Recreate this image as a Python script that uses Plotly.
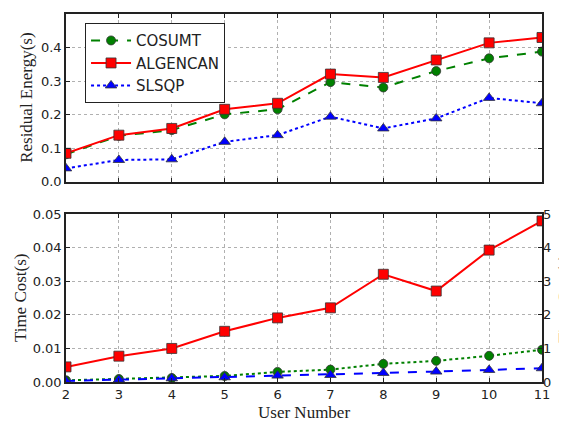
import plotly.graph_objects as go

users = [2, 3, 4, 5, 6, 7, 8, 9, 10, 11]

# Residual energy (s)
energy_cosumt = [0.082, 0.137, 0.154, 0.201, 0.216, 0.297, 0.281, 0.330, 0.368, 0.388]
energy_algencan = [0.085, 0.139, 0.159, 0.216, 0.234, 0.321, 0.311, 0.363, 0.414, 0.430]
energy_slsqp = [0.040, 0.065, 0.067, 0.119, 0.139, 0.194, 0.159, 0.189, 0.250, 0.234]

# Time cost (s), read on left axis
time_cosumt = [0.0005, 0.0009, 0.0012, 0.0018, 0.0030, 0.0037, 0.0054, 0.0063, 0.0078, 0.0096]
time_algencan = [0.0045, 0.0077, 0.0100, 0.0151, 0.0191, 0.0221, 0.0321, 0.0271, 0.0393, 0.0480]
time_slsqp = [0.0003, 0.0007, 0.0011, 0.0014, 0.0019, 0.0021, 0.0027, 0.0031, 0.0036, 0.0041]

left_ticks = [0.0, 0.1, 0.2, 0.3, 0.4, 0.5]
time_ticks = [0.0, 0.01, 0.02, 0.03, 0.04, 0.05]
right_ticks = [0, 1, 2, 3, 4, 5]

GREEN = "#008000"
RED = "#ff0000"
BLUE = "#0000ff"
EDGE = "#333333"
INK = "#222222"
SANS = "DejaVu Sans, sans-serif"
SERIF = "Liberation Serif, Times New Roman, serif"

fig = go.Figure()

def add(x, y, name, color, dash, symbol, size, xa, ya, legend):
    fig.add_trace(go.Scatter(
        x=x, y=y, name=name, mode="lines+markers",
        line=dict(color=color, width=2, dash=dash),
        marker=dict(symbol=symbol, size=size, color=color, line=dict(color=EDGE, width=0.8)),
        xaxis=xa, yaxis=ya, showlegend=legend,
    ))

add(users, energy_cosumt, "COSUMT", GREEN, "dash", "circle", 9, "x", "y", True)
add(users, energy_algencan, "ALGENCAN", RED, "solid", "square", 10, "x", "y", True)
add(users, energy_slsqp, "SLSQP", BLUE, "dot", "triangle-up", 10, "x", "y", True)

add(users, time_cosumt, "COSUMT", GREEN, "dot", "circle", 9, "x2", "y2", False)
add(users, time_algencan, "ALGENCAN", RED, "solid", "square", 10, "x2", "y2", False)
add(users, time_slsqp, "SLSQP", BLUE, "dash", "triangle-up", 10, "x2", "y2", False)

# empty trace so the right-hand axis is drawn
fig.add_trace(go.Scatter(x=[], y=[], xaxis="x2", yaxis="y3", showlegend=False, hoverinfo="skip"))

axis_common = dict(
    showline=True, linecolor=INK, linewidth=1.5, mirror="ticks",
    showgrid=True, gridcolor="#b0b0b0", griddash="dot", gridwidth=1,
    ticks="inside", ticklen=4, tickcolor=INK,
    tickfont=dict(family=SANS, size=13, color=INK),
    zeroline=False, automargin=False,
)

title_font = dict(family=SERIF, size=17, color=INK)

fig.update_layout(
    width=567, height=421,
    margin=dict(l=58, r=33, t=6, b=47),
    paper_bgcolor="white", plot_bgcolor="white",
    xaxis=dict(domain=[0, 1], anchor="y", range=[2, 11], tickvals=users,
               showticklabels=False, **axis_common),
    yaxis=dict(domain=[0.544, 1], anchor="x", range=[0, 0.5], tickvals=left_ticks,
               tickformat=".1f", **axis_common),
    xaxis2=dict(domain=[0, 1], anchor="y2", range=[2, 11], tickvals=users,
                **axis_common),
    yaxis2=dict(domain=[0, 0.456], anchor="x2", range=[0, 0.05], tickvals=time_ticks,
                tickformat=".2f", **axis_common),
    yaxis3=dict(overlaying="y2", side="right", anchor="x2", range=[0, 5], tickvals=right_ticks,
                showgrid=False, showline=False, ticks="",
                tickfont=dict(family=SANS, size=13, color=INK), zeroline=False, automargin=False),
    legend=dict(
        x=0.04, y=0.975, xanchor="left", yanchor="top",
        bgcolor="white", bordercolor=INK, borderwidth=1,
        font=dict(family=SANS, size=15, color=INK),
        itemwidth=40, tracegroupgap=0,
    ),
    showlegend=True,
    annotations=[
        dict(text="Residual Energy(s)", x=-0.082, y=0.772, xref="paper", yref="paper",
             textangle=-90, showarrow=False, xanchor="center", yanchor="middle", font=title_font),
        dict(text="Time Cost(s)", x=-0.0966, y=0.228, xref="paper", yref="paper",
             textangle=-90, showarrow=False, xanchor="center", yanchor="middle", font=title_font),
        dict(text="Time Cost(s)", x=1.046, y=0.228, xref="paper", yref="paper",
             textangle=-90, showarrow=False, xanchor="center", yanchor="middle", font=title_font),
        dict(text="User Number", x=0.5, y=-0.0842, xref="paper", yref="paper",
             showarrow=False, xanchor="center", yanchor="middle", font=title_font),
    ],
)

fig.write_html("out.html")
